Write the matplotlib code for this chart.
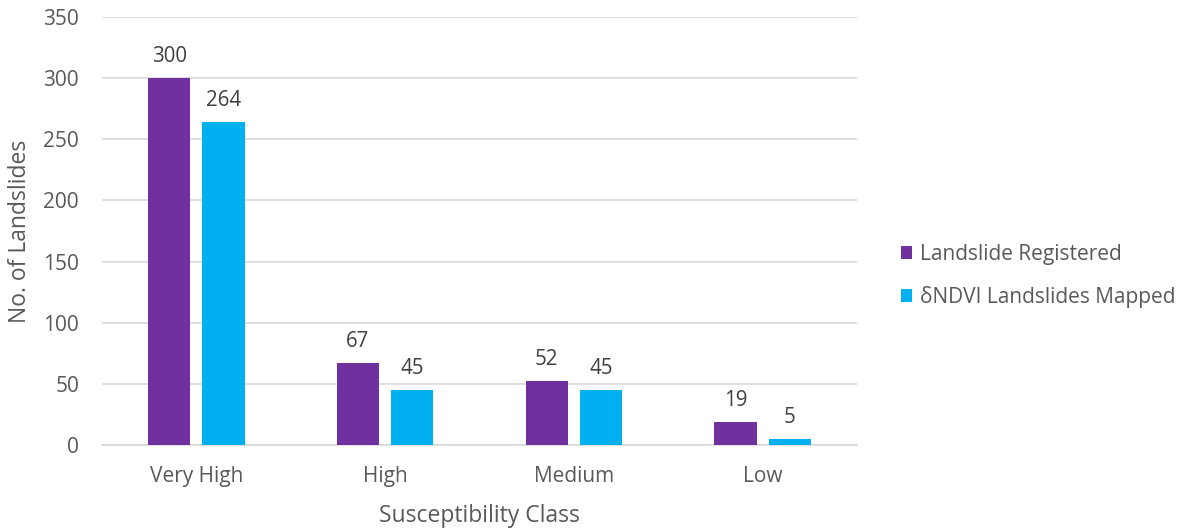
import matplotlib
matplotlib.use("Agg")
import matplotlib.pyplot as plt
import numpy as np

categories = ["Very High", "High", "Medium", "Low"]
registered = [300, 67, 52, 19]
mapped = [264, 45, 45, 5]
series_names = ["Landslide Registered", "\u03b4NDVI Landslides Mapped"]
y_ticks = [0, 50, 100, 150, 200, 250, 300, 350]

plt.rcParams["font.family"] = ["Open Sans", "DejaVu Sans"]
text_color = "#595959"
label_color = "#404040"

W, H = 1182, 531
fig = plt.figure(figsize=(W / 100, H / 100), dpi=100)
ax = fig.add_axes([102 / W, 86 / H, 755 / W, 428 / H])

x = np.arange(len(categories))
width = 0.224
offset = 0.144
b1 = ax.bar(x - offset, registered, width, color="#7030A0", label=series_names[0], zorder=3)
b2 = ax.bar(x + offset, mapped, width, color="#00B0F0", label=series_names[1], zorder=3)

for bars in (b1, b2):
    ax.bar_label(bars, padding=8, fontsize=14.8, color=label_color)

ax.set_xlim(-0.5, len(categories) - 0.5)
ax.set_ylim(0, 350)
ax.set_yticks(y_ticks)
ax.set_xticks(x)
ax.set_xticklabels(categories)
ax.tick_params(axis="both", length=0, labelsize=15, labelcolor=text_color)
ax.tick_params(axis="x", pad=15)
ax.tick_params(axis="y", pad=16.5)
ax.grid(axis="y", color="#D9D9D9", linewidth=1.2, zorder=0)
for side in ("top", "right", "left"):
    ax.spines[side].set_visible(False)
ax.spines["bottom"].set_color("#D9D9D9")
ax.spines["bottom"].set_linewidth(1.2)

ax.set_xlabel("Susceptibility Class", fontsize=16.5, color=text_color, labelpad=12)
ax.set_ylabel("No. of Landslides", fontsize=16.5, color=text_color, labelpad=8)

leg = fig.legend(handles=[b1, b2], loc="center left", bbox_to_anchor=(882 / W, 1 - 276 / H),
                 frameon=False, fontsize=15, labelcolor=text_color,
                 handlelength=0.55, handleheight=0.55, handletextpad=0.35, labelspacing=1.0)

fig.savefig("out.png", dpi=100)
